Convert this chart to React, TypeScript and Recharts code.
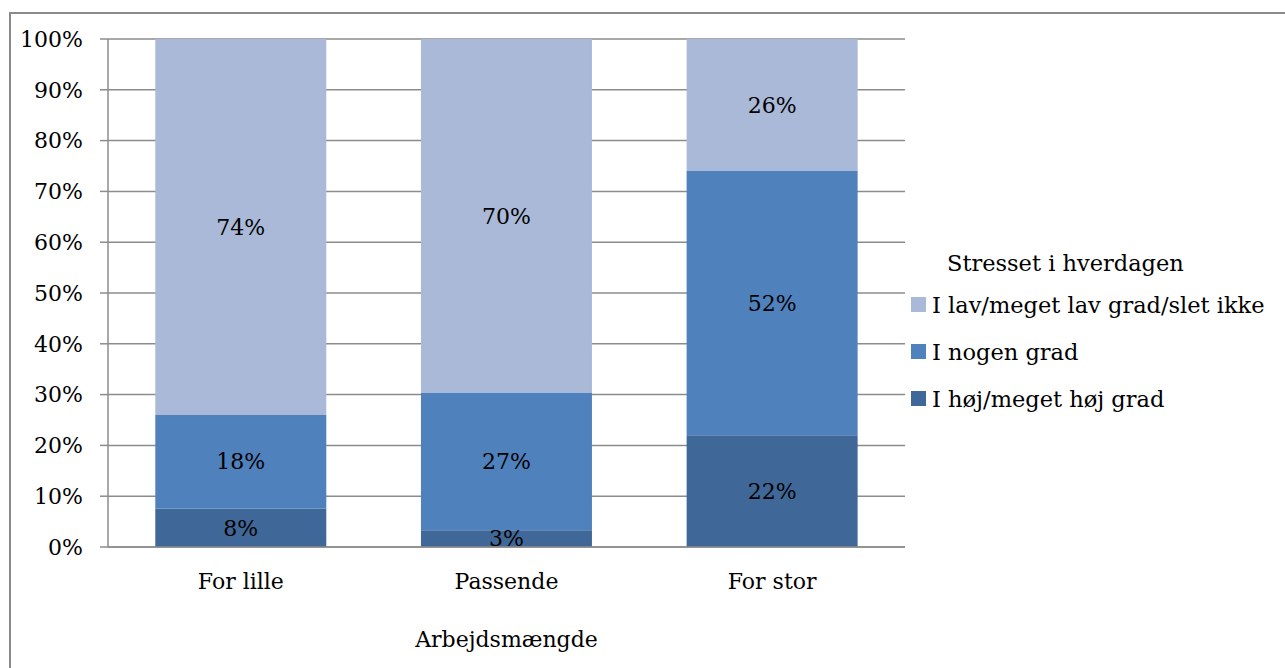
import { BarChart, Bar, XAxis, YAxis, CartesianGrid, LabelList, Legend, Label } from 'recharts';

const categories = ['For lille', 'Passende', 'For stor'];
const hoejGrad = [7.6, 3.3, 22];
const nogenGrad = [18.4, 27, 52];
const lavGrad = [74, 69.7, 26];
const yTicks = [0, 10, 20, 30, 40, 50, 60, 70, 80, 90, 100];
const boundaryTicks = [0, 1, 2, 3];

const seriesKeys = ['hoej', 'nogen', 'lav'];
const seriesNames = ['I høj/meget høj grad', 'I nogen grad', 'I lav/meget lav grad/slet ikke'];
const seriesColors = ['#3F6797', '#4F81BD', '#AAB9D7'];

const data = categories.map((name, i) => ({
  name,
  hoej: hoejGrad[i],
  nogen: nogenGrad[i],
  lav: lavGrad[i],
}));

const FONT = '"DejaVu Serif", serif';
const GRID = '#8c8c8c';
const textStyle = { fill: '#000', fontFamily: FONT, fontSize: 22 };

const pct = (v: any) => `${Math.round(Number(v))}%`;

// legend listed top-down like the stack (light on top)
const renderLegend = () => {
  const order = [2, 1, 0];
  return (
    <div style={{ fontFamily: FONT, fontSize: 22.5, color: '#000' }}>
      <div style={{ paddingLeft: 36, height: 36, lineHeight: '36px' }}>Stresset i hverdagen</div>
      {order.map((i) => (
        <div key={seriesKeys[i]} style={{ display: 'flex', alignItems: 'center', height: 47 }}>
          <span style={{ width: 15, height: 15, background: seriesColors[i], marginRight: 6, display: 'inline-block' }} />
          <span>{seriesNames[i]}</span>
        </div>
      ))}
    </div>
  );
};

export default function App() {
  return (
    <div style={{ position: 'fixed', left: 0, top: 0, width: 1285, height: 668, overflow: 'hidden', background: '#fff' }}>
      <div
        style={{
          position: 'absolute',
          left: 9,
          top: 12,
          width: 1400,
          height: 800,
          border: '2px solid #8a8a8a',
        }}
      />
      <div style={{ position: 'absolute', left: 0, top: 0 }}>
        <BarChart
          width={1285}
          height={668}
          data={data}
          margin={{ top: 39, right: 380, left: 48, bottom: 11 }}
          barCategoryGap="17.8%"
        >
          <CartesianGrid vertical={false} stroke={GRID} strokeWidth={1.5} />
          <XAxis
            xAxisId="bounds"
            type="number"
            domain={[0, 3]}
            ticks={boundaryTicks}
            interval={0}
            axisLine={false}
            tick={false}
            tickSize={6}
            tickLine={{ stroke: GRID, strokeWidth: 1.5 }}
            height={0}
          />
          <XAxis
            dataKey="name"
            height={110}
            axisLine={{ stroke: GRID, strokeWidth: 1.5 }}
            tickLine={false}
            tickMargin={20}
            tick={textStyle}
          >
            <Label value="Arbejdsmængde" position="insideBottom" offset={10} style={textStyle} />
          </XAxis>
          <YAxis
            width={60}
            domain={[0, 100]}
            ticks={yTicks}
            interval={0}
            tickFormatter={(v) => `${v}%`}
            axisLine={{ stroke: GRID, strokeWidth: 1.5 }}
            tickLine={{ stroke: GRID, strokeWidth: 1.5 }}
            tickSize={8}
            tickMargin={17}
            tick={textStyle}
          />
          <Legend
            content={renderLegend}
            layout="vertical"
            align="center"
            verticalAlign="middle"
            wrapperStyle={{ position: 'absolute', left: 911, top: 245, width: 370 }}
          />
          {seriesKeys.map((k, i) => (
            <Bar key={k} dataKey={k} name={seriesNames[i]} stackId="s" fill={seriesColors[i]} isAnimationActive={false}>
              <LabelList dataKey={k} position="center" formatter={pct} style={textStyle} />
            </Bar>
          ))}
        </BarChart>
      </div>
    </div>
  );
}
